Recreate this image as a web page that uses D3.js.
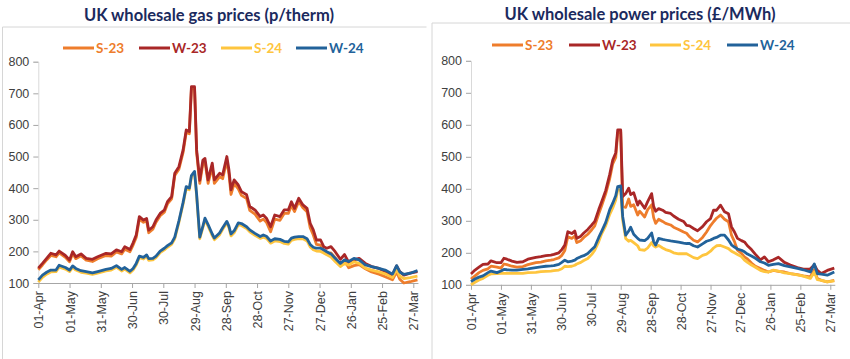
<!DOCTYPE html>
<html>
<head>
<meta charset="utf-8">
<script src="https://cdn.jsdelivr.net/npm/d3@7"></script>
<style>
    body { margin: 0; background: #fff; }
    svg { display: block; font-family: "Liberation Sans", Arial, sans-serif; }
    .title { font-family: Lato, sans-serif; font-weight: 700; font-size: 16.5px; fill: #1b2a5e; }
    .legend text { font-family: Lato, sans-serif; font-weight: 700; font-size: 13.5px; }
    .tick text { font-size: 12.5px; fill: #404040; }
    .series { fill: none; stroke-width: 2.8; stroke-linejoin: round; }
</style>
</head>
<body>
<svg id="chart" width="850" height="359"></svg>
<script>
// days since 01-Apr
const days = [0,4,8,12,17,20,26,30,33,36,41,46,52,57,65,70,75,80,83,88,91,94,97,101,104,106,110,113,117,121,124,128,131,135,139,142,145,147,150,152,155,158,160,163,167,169,174,177,181,183,185,188,192,195,200,203,208,213,216,219,223,227,232,236,240,243,246,250,254,258,261,264,267,271,274,277,281,285,290,294,298,303,308,314,320,327,333,340,344,347,351,357,364];

const tickDays = [0,30,60,90,120,150,180,210,240,270,300,330,360];
const tickLabels = ["01-Apr","01-May","31-May","30-Jun","30-Jul","29-Aug","28-Sep","28-Oct","27-Nov","27-Dec","26-Jan","25-Feb","27-Mar"];
const yTicks = [100,200,300,400,500,600,700,800];

const seriesNames = ["S-23","W-23","S-24","W-24"];
const seriesColors = ["#ee7d2c","#a92727","#fec53e","#22629a"];

// gas (p/therm)
const gasS23 = [142,157,173,187,183,195,181,167,193,177,186,172,168,177,187,185,198,192,207,199,220,244,302,292,296,259,270,292,313,324,350,366,440,460,513,576,572,715,715,512,415,478,483,415,468,415,436,430,488,445,380,414,398,377,367,330,318,296,302,292,262,302,298,320,320,345,326,358,338,325,275,252,222,220,200,192,195,180,155,172,148,155,158,145,135,128,120,110,135,112,100,104,110];
const gasW23 = [147,162,178,194,189,201,187,173,199,183,192,178,175,183,194,192,205,199,215,206,227,252,310,299,304,267,278,299,320,331,357,373,447,468,521,584,579,721,721,521,425,489,494,426,479,426,447,442,500,458,395,426,410,389,379,342,331,310,315,305,278,315,310,331,331,357,336,368,347,336,289,268,236,236,215,210,215,199,175,190,165,173,178,162,152,146,136,125,154,136,125,131,136];
const gasS24 = [103,118,128,135,136,150,144,136,149,141,134,131,127,131,138,141,150,138,144,132,141,157,180,176,184,172,173,180,196,205,213,222,240,292,350,400,395,436,450,375,240,275,300,280,250,237,252,270,290,275,249,259,284,282,272,262,251,241,245,241,226,233,231,225,223,235,238,240,240,233,214,205,201,200,195,189,182,168,152,162,157,167,162,147,141,135,129,117,143,122,114,117,122];
const gasW24 = [110,125,134,141,141,156,149,141,154,146,139,136,132,136,143,146,155,143,149,137,146,162,185,181,189,177,178,185,201,210,218,227,245,297,355,405,400,440,453,380,245,280,305,285,255,242,258,275,295,280,255,265,290,288,278,268,257,247,252,248,233,240,238,232,230,242,245,247,247,240,222,213,210,210,205,199,192,178,162,173,168,178,173,157,152,146,141,128,155,135,127,131,139];

// power (£/MWh)
const powerS23 = [118,128,138,145,150,158,155,152,165,163,158,155,157,163,169,171,175,177,179,184,192,207,250,245,252,232,238,248,258,272,284,322,348,385,432,478,498,575,578,345,342,368,345,350,318,330,312,335,350,310,292,305,298,292,287,280,273,265,261,250,239,234,248,265,285,297,308,318,305,297,255,235,208,198,187,181,168,158,151,145,140,145,142,140,135,132,128,125,146,120,114,109,114];
const powerW23 = [134,146,155,164,165,175,169,169,183,180,174,170,172,180,186,188,191,193,195,200,210,224,266,260,268,245,252,262,273,287,298,335,360,395,445,490,512,584,584,376,385,402,382,388,349,362,339,360,385,345,330,338,333,326,323,315,305,298,286,284,276,269,282,297,307,333,333,349,328,322,281,265,245,238,234,222,210,195,178,187,172,178,186,170,162,154,149,150,162,145,135,145,152];
const powerS24 = [100,108,115,120,130,134,135,136,136,136,136,136,136,138,139,141,142,143,144,146,150,158,157,158,161,165,170,176,182,195,208,235,260,285,320,340,365,396,398,302,245,236,239,232,222,210,208,215,232,222,218,223,215,210,205,200,197,197,197,192,185,182,192,196,205,215,222,223,218,213,205,200,195,188,177,170,162,155,145,141,140,146,143,137,135,131,127,120,140,116,114,109,112];
const powerW24 = [110,118,124,128,138,143,138,143,148,147,146,146,148,150,154,156,158,159,160,164,170,177,172,174,177,182,188,191,198,210,219,248,268,295,335,355,378,407,409,313,255,268,280,258,245,240,238,245,262,235,224,245,242,240,237,236,233,230,229,229,222,218,228,236,240,245,248,255,255,240,225,218,212,208,203,196,190,183,172,168,161,164,166,160,156,151,147,140,165,135,133,130,140];

document.addEventListener("DOMContentLoaded", function () {
    const svg = d3.select("#chart");

    const panels = [
        {
            title: "UK wholesale gas prices (p/therm)",
            titleX: 209, titleY: 21,
            frameX: 2.5, frameY: 27, frameW: 424,
            x0: 38.3, x1: 413.3, yTop: 61.7, yBottom: 283,
            legendY: 48, legendX: [63, 139, 221, 296],
            series: [gasS23, gasW23, gasS24, gasW24],
        },
        {
            title: "UK wholesale power prices (£/MWh)",
            titleX: 640, titleY: 20,
            frameX: 432, frameY: 23, frameW: 418,
            x0: 471, x1: 830.3, yTop: 60.8, yBottom: 284.8,
            legendY: 45, legendX: [492, 569, 650, 727],
            series: [powerS23, powerW23, powerS24, powerW24],
        },
    ];

    panels.forEach((p) => drawPanel(p));

    function drawPanel(p) {
        const g = svg.append("g");

        // light frame round the panel
        g.append("path")
            .attr("d", `M${p.frameX},359V${p.frameY}H${p.frameX + p.frameW}`)
            .attr("fill", "none")
            .attr("stroke", "#d6d6d6")
            .attr("stroke-width", 1);

        g.append("text")
            .attr("class", "title")
            .attr("x", p.titleX)
            .attr("y", p.titleY)
            .attr("text-anchor", "middle")
            .text(p.title);

        const x = d3.scaleLinear().domain([0, 360]).range([p.x0, p.x1]);
        const y = d3.scaleLinear().domain([100, 800]).range([p.yBottom, p.yTop]);

        // y axis
        const yAxis = g.append("g")
            .attr("transform", `translate(${p.x0},0)`)
            .call(d3.axisLeft(y).tickValues(yTicks).tickSize(5).tickPadding(4));
        yAxis.select(".domain").attr("stroke", "#d9d9d9");
        yAxis.selectAll(".tick line").attr("stroke", "#a6a6a6");

        // x axis
        const xAxis = g.append("g")
            .attr("transform", `translate(0,${p.yBottom})`)
            .call(
                d3.axisBottom(x)
                    .tickValues(tickDays)
                    .tickFormat((d, i) => tickLabels[i])
                    .tickSize(5)
                    .tickSizeOuter(0)
            );
        xAxis.select(".domain")
            .attr("d", `M${p.x0},0.5H${x(364) + 1}`)
            .attr("stroke", "#a6a6a6");
        xAxis.selectAll(".tick line").attr("stroke", "#a6a6a6");
        xAxis.selectAll(".tick text")
            .attr("transform", "rotate(-90)")
            .attr("text-anchor", "end")
            .attr("x", -8)
            .attr("y", 0)
            .attr("dy", "0.36em");

        const line = d3.line()
            .x((d, i) => x(days[i]))
            .y((d) => y(d));

        p.series.forEach((values, k) => {
            g.append("path")
                .datum(values)
                .attr("class", "series")
                .attr("stroke", seriesColors[k])
                .attr("d", line);
        });

        // legend
        const legend = g.append("g").attr("class", "legend");
        seriesNames.forEach((name, k) => {
            const lx = p.legendX[k];
            legend.append("line")
                .attr("x1", lx)
                .attr("x2", lx + 31)
                .attr("y1", p.legendY)
                .attr("y2", p.legendY)
                .attr("stroke", seriesColors[k])
                .attr("stroke-width", 3);
            legend.append("text")
                .attr("x", lx + 33)
                .attr("y", p.legendY)
                .attr("dy", "0.36em")
                .attr("fill", seriesColors[k])
                .text(name);
        });
    }
});
</script>
</body>
</html>
